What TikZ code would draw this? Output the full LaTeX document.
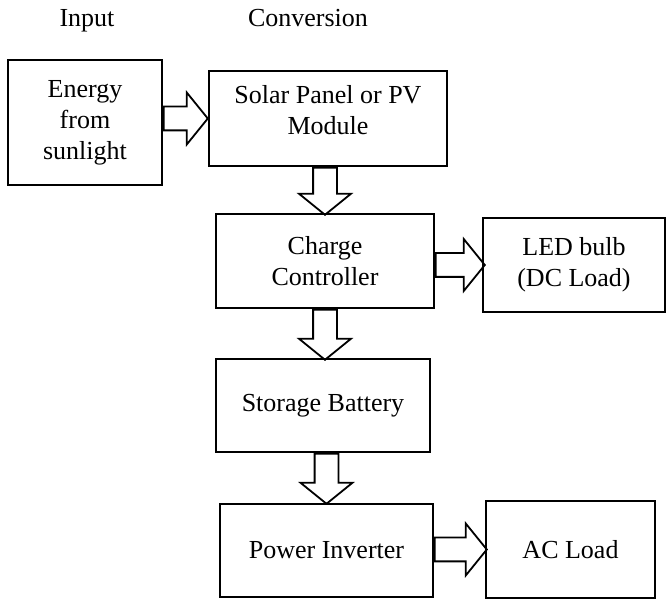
\documentclass[tikz,border=0pt]{standalone}
\usepackage{fontspec}
\setmainfont{Liberation Serif}
\usetikzlibrary{shapes.arrows,calc}
\tikzset{
  hdr/.style={anchor=base,font=\fontsize{13}{15.5}\selectfont},
  blk/.style={draw,line width=0.9pt,align=center,inner sep=2pt,font=\fontsize{13}{15.5}\selectfont},
  fat/.style={single arrow,draw,line width=0.9pt,inner xsep=0pt,inner ysep=5.5pt,
    single arrow head extend=7pt,single arrow tip angle=102,anchor=tail}
}
\begin{document}
\begin{tikzpicture}[x=0.5pt,y=-0.5pt]
  \useasboundingbox (0,0) rectangle (666,599);
  \node[hdr] (hin) at (87,27) {Input};
  \node[hdr] (hconv) at (308,27) {Conversion};
  \node[blk,minimum width=77pt,minimum height=62.5pt] (sun) at (85,122.5) {Energy\\from\\sunlight};
  \node[blk,minimum width=119pt,minimum height=47.5pt] (pv) at (328,118.5) {Solar Panel or PV\\Module\\[-7pt]};
  \node[blk,minimum width=109pt,minimum height=47pt] (cc) at (325,261) {Charge\\Controller};
  \node[blk,minimum width=91pt,minimum height=47pt] (led) at (574,265) {LED bulb\\(DC Load)};
  \node[blk,minimum width=107pt,minimum height=46.5pt] (bat) at (323,405.5) {Storage Battery};
  \node[blk,minimum width=106.5pt,minimum height=46.5pt] (inv) at (326.5,550.5) {Power Inverter};
  \node[blk,minimum width=84.5pt,minimum height=48.5pt] (ac) at (570.5,549.5) {AC Load};
  \node[fat,minimum height=22pt] (a1) at (sun.east |- pv) {};
  \node[fat,rotate=-90,minimum height=23.5pt] (a2) at (pv.south -| cc) {};
  \node[fat,minimum height=24.5pt] (a3) at (cc.east |- led) {};
  \node[fat,rotate=-90,minimum height=25pt] (a4) at (cc.south) {};
  \node[fat,rotate=-90,minimum height=25pt] (a5) at (bat.south -| inv) {};
  \node[fat,minimum height=26pt] (a6) at (inv.east |- ac) {};
\end{tikzpicture}
\end{document}
